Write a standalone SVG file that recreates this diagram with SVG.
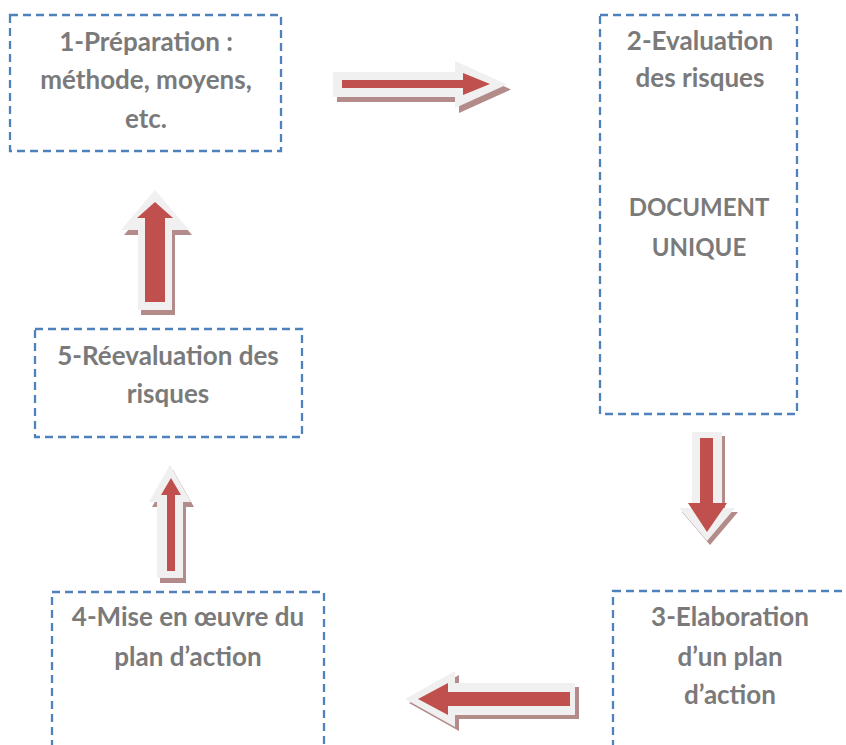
<svg xmlns="http://www.w3.org/2000/svg" width="846" height="745" viewBox="0 0 846 745">
<style>
.box{fill:none;stroke:#4f81bd;stroke-width:2.3;stroke-dasharray:8 5;}
.t{font-family:Lato,"Open Sans","Liberation Sans",sans-serif;font-weight:700;font-size:26px;fill:#7a7a7a;text-anchor:middle;}
.caps{font-size:24px;}
.sh{fill:#b38b8b;}
.out{fill:#f0f0f0;}
.red{fill:#c0504d;}
</style>
<rect width="846" height="745" fill="#ffffff"/>
<g id="node1">
<rect class="box" x="10" y="15" width="271" height="136"/>
<text class="t" x="146" y="51">1-Préparation :</text>
<text class="t" x="146" y="89">méthode, moyens,</text>
<text class="t" x="146" y="128">etc.</text>
</g>
<g id="node2">
<rect class="box" x="600" y="15" width="197" height="399"/>
<text class="t" x="700" y="50">2-Evaluation</text>
<text class="t" x="700" y="87">des risques</text>
<text class="t caps" x="699" y="216">DOCUMENT</text>
<text class="t caps" x="699" y="256">UNIQUE</text>
</g>
<g id="node3">
<rect class="box" x="613" y="591" width="240" height="170"/>
<text class="t" x="730" y="626">3-Elaboration</text>
<text class="t" x="730" y="666">d’un plan</text>
<text class="t" x="730" y="704">d’action</text>
</g>
<g id="node4">
<rect class="box" x="52" y="592" width="272" height="170"/>
<text class="t" x="188" y="626">4-Mise en œuvre du</text>
<text class="t" x="188" y="666">plan d’action</text>
</g>
<g id="node5">
<rect class="box" x="35" y="329" width="267" height="108"/>
<text class="t" x="168" y="365">5-Réevaluation des</text>
<text class="t" x="168" y="403">risques</text>
</g>
<g id="connectors">
<g id="arrow1to2">
<path class="sh" transform="translate(4,5)" d="M333,72 H455 V61 L507,84.5 L455,108 V97 H333 Z"/>
<path class="out" d="M333,72 H455 V61 L507,84.5 L455,108 V97 H333 Z"/>
<path class="red" d="M342,80 H463 V73 L490,84 L463,95 V88 H342 Z"/>
</g>
<g id="arrow2to3">
<path class="sh" transform="translate(3,4)" d="M692,432 H722 V508 H735 L707,541 L679,508 H692 Z"/>
<path class="out" d="M692,432 H722 V508 H735 L707,541 L679,508 H692 Z"/>
<path class="red" d="M700,438 H713 V503 H727 L707,532 L688,503 H700 Z"/>
</g>
<g id="arrow3to4">
<path class="sh" transform="translate(4,4)" d="M575,683 H455 V671 L405,699 L455,727 V715 H575 Z"/>
<path class="out" d="M575,683 H455 V671 L405,699 L455,727 V715 H575 Z"/>
<path class="red" d="M570,692 H448 V683 L418,699 L448,715 V706 H570 Z"/>
</g>
<g id="arrow4to5">
<path class="sh" transform="translate(3,5)" d="M170,465 L191,502 H183 V578 H157 V502 H149 Z"/>
<path class="out" d="M170,465 L191,502 H183 V578 H157 V502 H149 Z"/>
<path class="red" d="M171,478 L181,495 H175 V571 H167 V495 H161 Z"/>
</g>
<g id="arrow5to1">
<path class="sh" transform="translate(3,5)" d="M155,190 L189,230 H172 V310 H138 V230 H121 Z"/>
<path class="out" d="M155,190 L189,230 H172 V310 H138 V230 H121 Z"/>
<path class="red" d="M155,202 L173,218 H165 V302 H145 V218 H137 Z"/>
</g>
</g>
</svg>
